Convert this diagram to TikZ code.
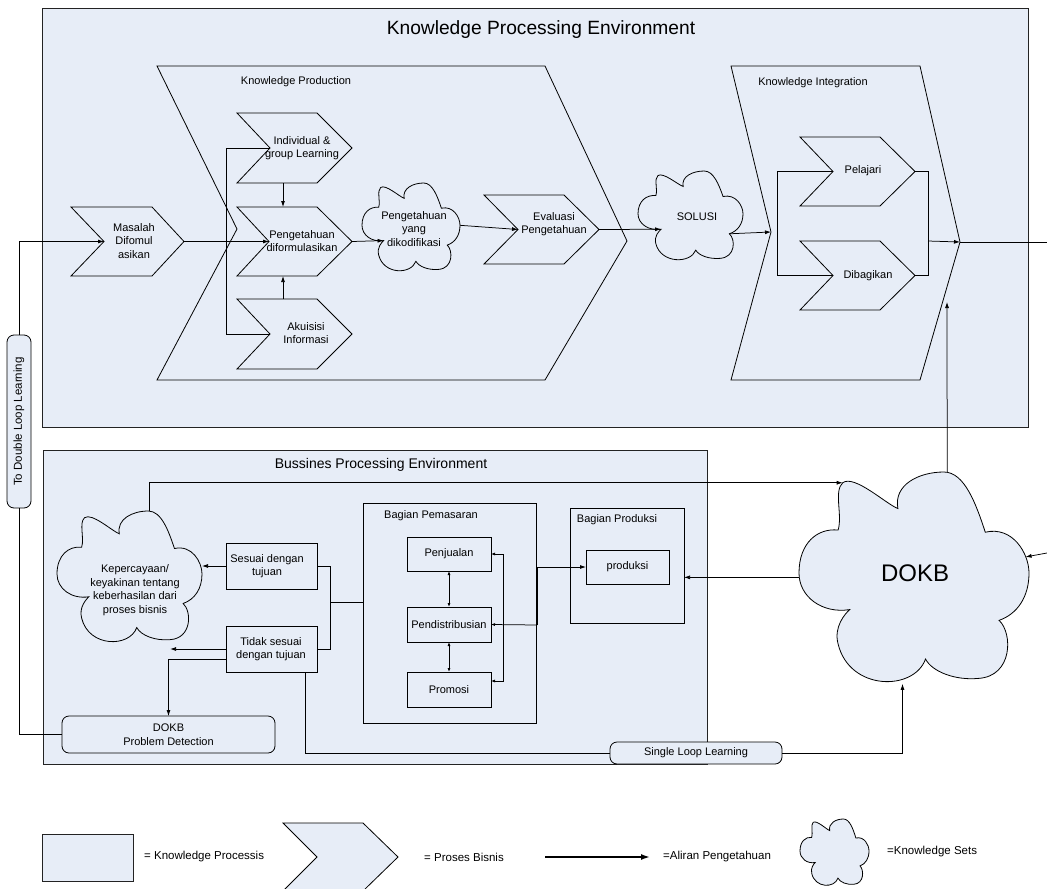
\documentclass[tikz,border=0pt]{standalone}
\usepackage{fontspec}
\setmainfont{Liberation Sans}
\usetikzlibrary{arrows.meta,calc}
\definecolor{fillc}{RGB}{231,237,247}
\definecolor{edgec}{RGB}{35,35,35}
\tikzset{
  envbox/.style={draw=edgec, fill=fillc, line width=0.9pt, inner sep=0pt, outer sep=0pt},
  procst/.style={draw=black, fill=fillc, line width=0.8pt, line join=miter},
  cloudst/.style={draw=black, fill=fillc, line width=0.8pt},
  boxst/.style={draw=black, fill=fillc, line width=0.8pt, inner sep=0pt, outer sep=0pt},
  roundst/.style={boxst, rounded corners=7pt},
  lbl/.style={font=\fontsize{11}{13.5}\selectfont, align=center, inner sep=0pt},
  lgl/.style={font=\fontsize{11.5}{13.5}\selectfont, inner sep=0pt, anchor=west},
  flow/.style={-{Latex[length=6pt,width=4pt]}, line width=0.75pt},
  link/.style={line width=0.75pt},
  smallflow/.style={-{Latex[length=4pt,width=3pt]}, line width=0.75pt},
  bigflow/.style={-{Latex[length=9pt,width=6pt]}, line width=1.6pt},
}
% chevron: name, xl, xn, xr, xt, yt, yb
\newcommand{\chevshape}[7]{%
  \draw[procst] (#2,#6) -- (#4,#6) -- (#5,{(#6+#7)/2}) -- (#4,#7) -- (#2,#7) -- (#3,{(#6+#7)/2}) -- cycle;
  \coordinate (#1-tip) at (#5,{(#6+#7)/2});
  \coordinate (#1-notch) at (#3,{(#6+#7)/2});
  \coordinate (#1-top) at ({(#2+#4)/2+6},#6);
  \coordinate (#1-bot) at ({(#2+#4)/2+6},#7);
}
% cloud: name, x0, y0, w, h
\newcommand{\cloudat}[5]{%
  \begin{scope}[shift={(#2,#3)},xscale=#4,yscale=#5]
  \draw[cloudst] (0.17,0.27) .. controls (0.19,0.20) and (0.15,0.09) .. (0.19,0.05)
   .. controls (0.24,0.01) and (0.38,0.15) .. (0.43,0.17)
   .. controls (0.41,0.06) and (0.52,0.0) .. (0.63,0.0)
   .. controls (0.72,0.0) and (0.77,0.15) .. (0.81,0.28)
   .. controls (0.93,0.25) and (1.0,0.38) .. (1.0,0.47)
   .. controls (1.0,0.58) and (0.95,0.66) .. (0.87,0.69)
   .. controls (0.93,0.75) and (0.93,0.95) .. (0.78,0.96)
   .. controls (0.68,0.97) and (0.58,0.93) .. (0.55,0.87)
   .. controls (0.50,1.02) and (0.22,1.02) .. (0.17,0.80)
   .. controls (0.15,0.72) and (0.20,0.66) .. (0.22,0.64)
   .. controls (0.10,0.66) and (0.0,0.58) .. (0.0,0.47)
   .. controls (0.0,0.33) and (0.08,0.26) .. (0.17,0.27) -- cycle;
  \coordinate (#1-l) at (0,0.49);
  \coordinate (#1-r) at (1,0.47);
  \coordinate (#1-r2) at (0.985,0.395);
  \coordinate (#1-t) at (0.64,0.0);
  \coordinate (#1-b) at (0.45,0.985);
  \coordinate (#1-tl) at (0.19,0.05);
  \coordinate (#1-n5) at (0.22,0.64);
  \coordinate (#1-n3) at (0.87,0.69);
  \coordinate (#1-rb) at (0.78,0.96);
  \end{scope}
}
\begin{document}
\begin{tikzpicture}[x=1pt,y=-1pt]
\useasboundingbox (0,0) rectangle (1047,889);

% ===== Knowledge Processing Environment =====
\node[envbox, minimum width=986pt, minimum height=419pt, anchor=north west] (kpe) at (42,8) {};
\node[font=\fontsize{19.2}{23}\selectfont, inner sep=0pt] (kpetitle) at (541,30) {Knowledge Processing Environment};

% Knowledge Production big chevron
\draw[procst] (157,66) -- (545,66) -- (627,241) -- (545,380) -- (157,380) -- (237,229) -- cycle;
\node[lbl] (kprod) at (296,82) {Knowledge Production};

% Knowledge Integration big chevron
\draw[procst] (731,66) -- (920,66) -- (960,242) -- (920,380) -- (731,380) -- (771,232) -- cycle;
\coordinate (kint-tip) at (960,242);
\coordinate (kint-notch) at (771,232);
\node[lbl] (kintl) at (813,83) {Knowledge Integration};

% small chevrons
\chevshape{masalah}{71}{104}{152}{184}{207}{276}
\node[lbl] (masalah) at (134,241) {Masalah\\Difomul\\asikan};
\chevshape{indiv}{237}{270}{317}{352}{113}{183}
\node[lbl] (indiv) at (302,148) {Individual \&\\group Learning};
\chevshape{pform}{237}{269}{317}{352}{207}{276}
\node[lbl] (pform) at (302,241) {Pengetahuan\\diformulasikan};
\chevshape{akuis}{237}{270}{317}{352}{299}{369}
\node[lbl] (akuis) at (306,333) {Akuisisi\\Informasi};
\chevshape{eval}{484}{518}{564}{599}{195}{264}
\node[lbl] (eval) at (554,224) {Evaluasi\\Pengetahuan};
\chevshape{pel}{800}{833}{880}{915}{137}{206}
\node[lbl] (pel) at (863,171) {Pelajari};
\chevshape{dib}{800}{833}{880}{915}{241}{310}
\node[lbl] (dib) at (868,276) {Dibagikan};

% clouds in KPE
\cloudat{kod}{362}{183}{98}{90}
\node[lbl] (kod) at (414,229) {Pengetahuan\\yang\\dikodifikasi};
\cloudat{sol}{638}{171}{105}{91}
\node[lbl] (sol) at (697,217) {SOLUSI};

% KPE connectors
\draw[flow] (masalah-tip) -- (pform-notch);
\draw[link] (indiv-notch) -- ++(-44,0) |- (akuis-notch);
\draw[flow] (indiv-bot) -- (pform-top);
\draw[flow] (akuis-top) -- (pform-bot);
\draw[flow] (pform-tip) -- (kod-n5);
\draw[flow] (kod-r) -- (eval-notch);
\draw[flow] (eval-tip) -- (sol-n5);
\draw[flow] (sol-n3) -- (kint-notch);
\draw[link] (pel-notch) -- ++(-56,0) |- (dib-notch);
\draw[link] (pel-tip) -- ++(13,0) |- (dib-tip);
\coordinate (kj) at (928,241);
\draw[flow] (kj) -- (kint-tip);
\coordinate (outR) at (1047,242);
\draw[link] (kint-tip) -- (outR);

% ===== Bussines Processing Environment =====
\node[envbox, minimum width=664pt, minimum height=314pt, anchor=north west] (bpe) at (43,450) {};
\node[font=\fontsize{14}{17}\selectfont, inner sep=0pt] (bpetitle) at (381,465) {Bussines Processing Environment};

\cloudat{kep}{57}{511}{145}{134}
\node[lbl] (kep) at (135,590) {Kepercayaan/\\keyakinan tentang\\keberhasilan dari\\proses bisnis};

\node[boxst, minimum width=91pt, minimum height=46pt] (sesuai) at (271.5,566) {};
\node[lbl] (sesuait) at (267,566) {Sesuai dengan\\tujuan};
\node[boxst, minimum width=91pt, minimum height=46pt] (tidak) at (271.5,649) {};
\node[lbl] (tidakt) at (271,649) {Tidak sesuai\\dengan tujuan};
\node[roundst, lbl, minimum width=213pt, minimum height=37pt] (dokbpd) at (168.5,734.5) {DOKB\\Problem Detection};

\node[boxst, minimum width=173pt, minimum height=220pt] (pemasaran) at (449.5,613) {};
\node[lbl] (pemlbl) at (431,516) {Bagian Pemasaran};
\node[boxst, lbl, minimum width=84pt, minimum height=34pt] (penjualan) at (449,554) {Penjualan};
\node[boxst, lbl, minimum width=84pt, minimum height=35pt] (pendist) at (449,624.5) {Pendistribusian};
\node[boxst, lbl, minimum width=84pt, minimum height=35pt] (promosi) at (449,689.5) {Promosi};

\node[boxst, minimum width=114pt, minimum height=115pt] (bprod) at (627,565.5) {};
\node[lbl] (prodlbl) at (617,520) {Bagian Produksi};
\node[boxst, lbl, minimum width=83pt, minimum height=34pt] (produksi) at (627.5,567) {produksi};

\node[roundst, lbl, minimum width=172pt, minimum height=22pt] (sll) at (696,753) {Single Loop Learning};
\node[roundst, lbl, font=\fontsize{11.5}{13.5}\selectfont, rotate=90, minimum width=173pt, minimum height=24pt] (dll) at (19,421.5) {To Double Loop Learning};

% DOKB cloud
\cloudat{dokb}{799}{472}{230}{215}
\node[font=\fontsize{24}{28}\selectfont, inner sep=0pt] (dokb) at (915,573) {DOKB};

% BPE connectors
\draw[flow] (sesuai.west) -- (sesuai.west -| kep-r);
\draw[flow] (tidak.west) -- (tidak.west -| kep-rb);
\draw[flow] ($(tidak.west)+(0,10)$) -| (dokbpd.north);
\draw[link] (sesuai.east) -- ++(13,0) |- (tidak.east);
\coordinate (sj) at (330,602);
\draw[link] (sj) -- (sj -| pemasaran.west);
\draw[link] ($(tidak.south)+(34,0)$) |- (sll.west);
\draw[flow] (sll.east) -| (dokb-b);
\draw[flow] (kep-t) |- (dokb-tl);
\draw[flow] (dokb-l) -- (dokb-l -| bprod.east);

\draw[smallflow, {Latex[length=4pt,width=3pt]}-{Latex[length=4pt,width=3pt]}] (penjualan.south) -- (pendist.north);
\draw[smallflow, {Latex[length=4pt,width=3pt]}-{Latex[length=4pt,width=3pt]}] (pendist.south) -- (promosi.north);
\coordinate (bj) at (503,625);
\draw[smallflow] (bj) |- (penjualan.east);
\draw[smallflow] (bj) |- ($(promosi.east)+(0,-8.5)$);
\coordinate (pj) at (537,625);
\draw[smallflow] (pj) -- (pendist.east);
\draw[flow] (pj) |- (produksi.west);

% links between environments
\draw[flow] (dll.east) |- (masalah-notch);
\draw[link] (dll.west) |- (dokbpd.west);
\coordinate (kintIn) at (947,302);
\draw[flow] (dokb-t) ++(1,0) -- (kintIn);
\coordinate (inR) at (1047,553);
\draw[flow] (inR) -- (dokb-r2);

% ===== Legend =====
\node[envbox, minimum width=91pt, minimum height=47pt, anchor=north west] (lgbox) at (42,834) {};
\node[lgl] (lgboxt) at (144,857) {= Knowledge Processis};
\draw[procst] (283,823) -- (363,823) -- (398,857) -- (363,891) -- (283,891) -- (317,857) -- cycle;
\node[lgl] (lgchevt) at (424,857) {= Proses Bisnis};
\coordinate (lgA) at (545,857);
\coordinate (lgB) at (650,857);
\draw[bigflow] (lgA) -- (lgB);
\node[lgl] (lgarrt) at (663,857) {=Aliran Pengetahuan};
\cloudat{lgc}{800}{819}{69}{68}
\node[lgl] (lgct) at (887,852) {=Knowledge Sets};
\end{tikzpicture}
\end{document}
